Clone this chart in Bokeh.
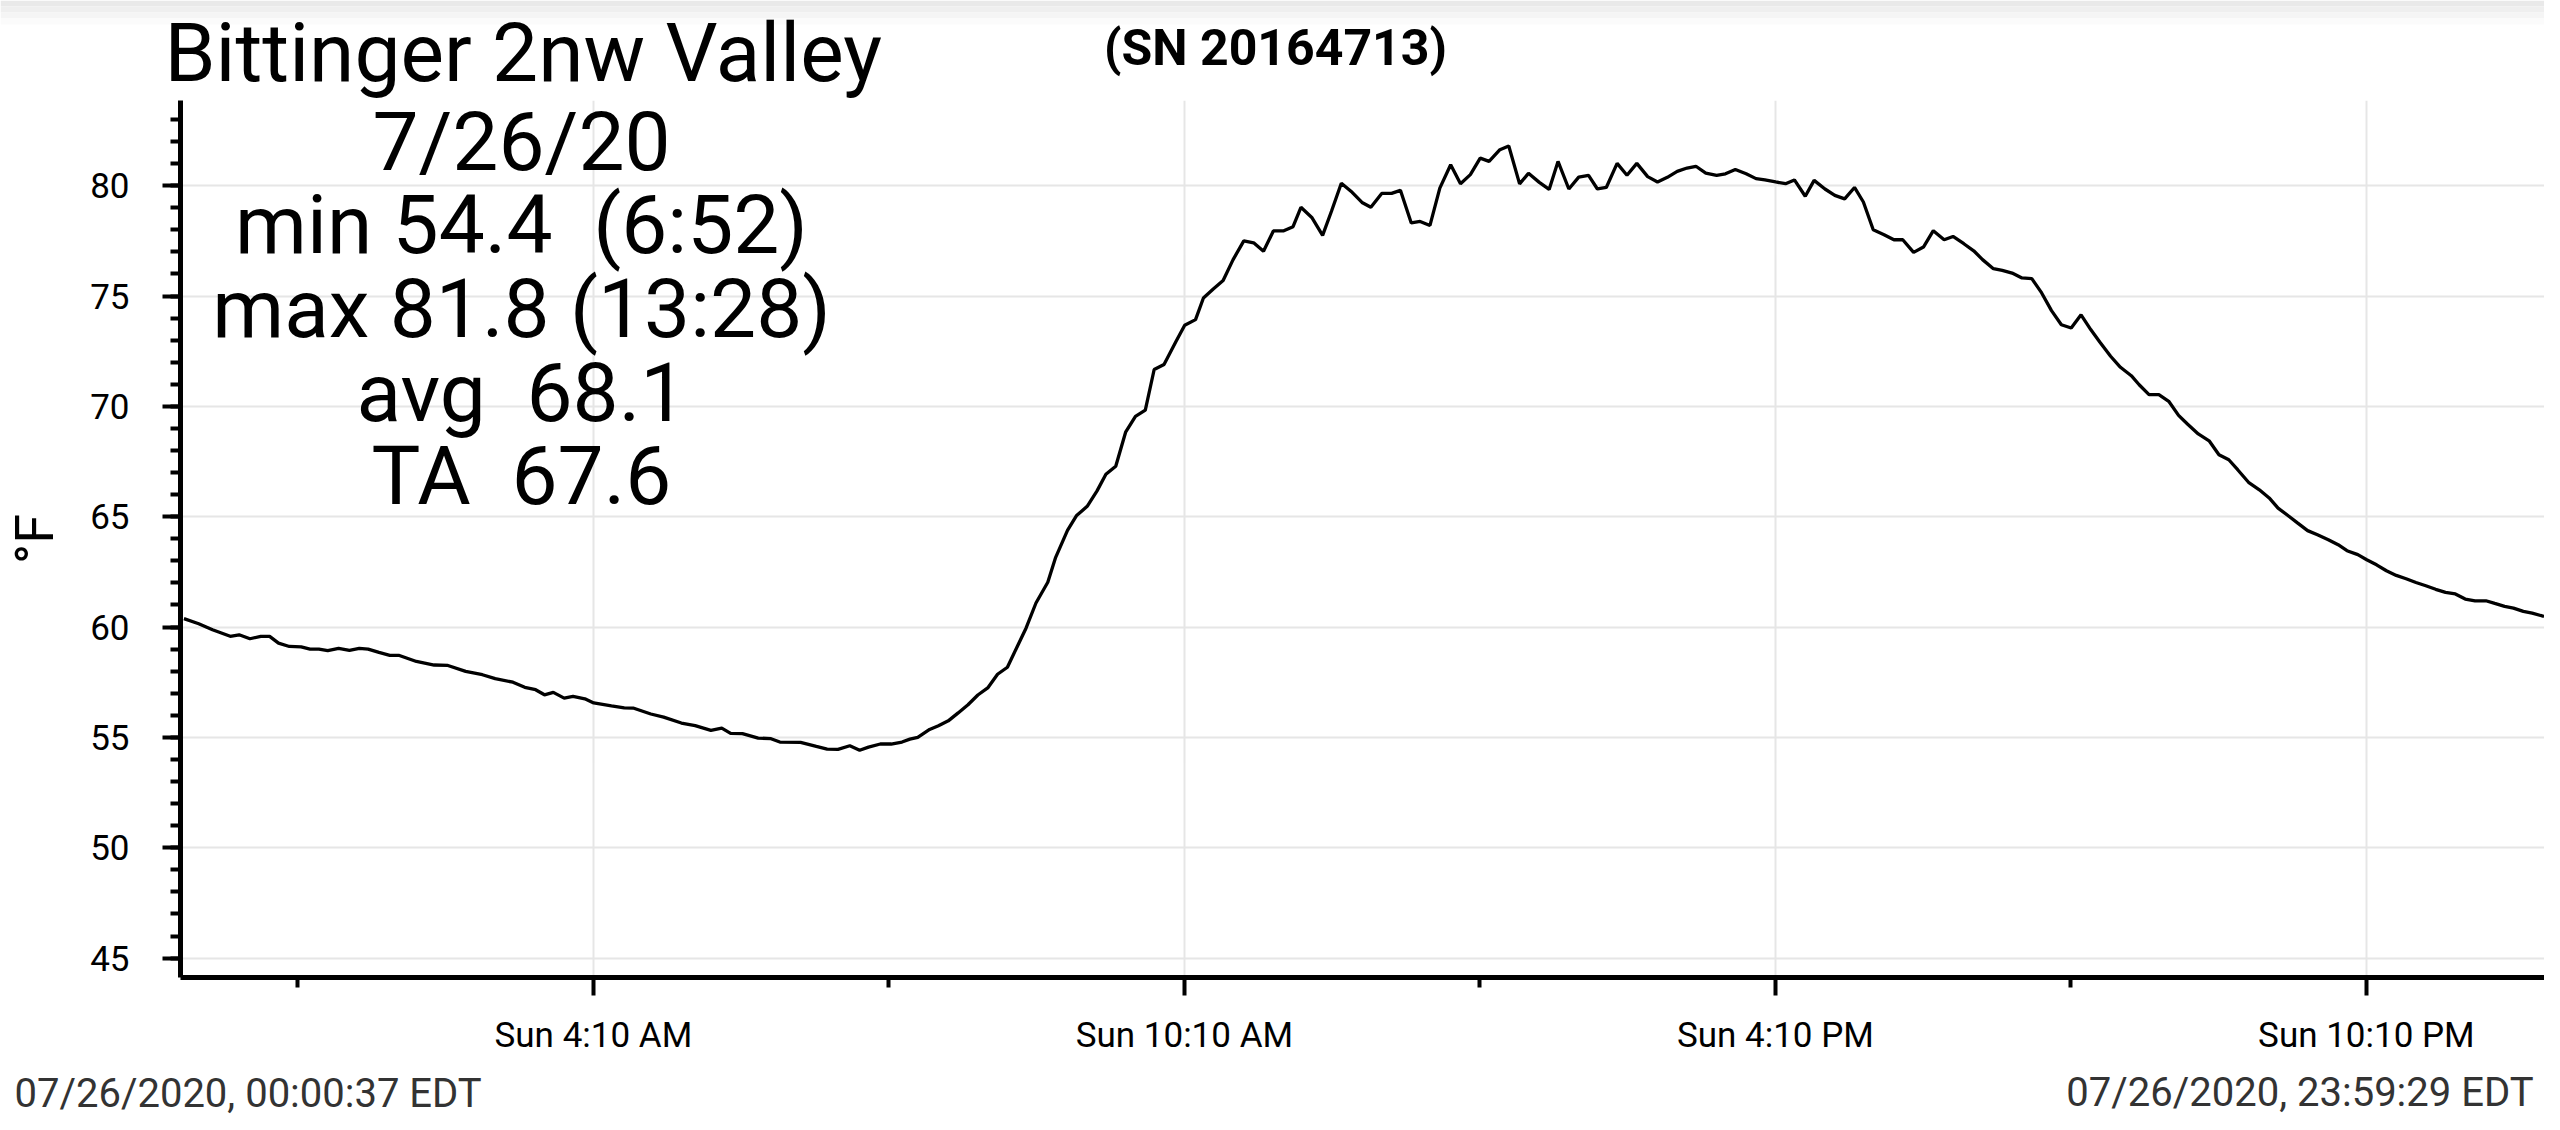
from bokeh.plotting import figure
from bokeh.models import Range1d, FixedTicker, Label, BoxAnnotation
from bokeh.layouts import column
from bokeh.embed import file_html
from bokeh.resources import INLINE

# ---- data (hours since midnight, °F) ----
hours = [
    0.01, 0.16, 0.30, 0.48, 0.57, 0.68, 0.79, 0.88, 0.97, 1.08,
    1.20, 1.29, 1.38, 1.47, 1.58, 1.69, 1.79, 1.88, 1.99, 2.10,
    2.19, 2.37, 2.55, 2.69, 2.87, 3.04, 3.17, 3.35, 3.47, 3.58,
    3.67, 3.76, 3.87, 3.96, 4.08, 4.17, 4.35, 4.48, 4.57, 4.75,
    4.88, 5.06, 5.20, 5.36, 5.47, 5.56, 5.68, 5.84, 5.97, 6.06,
    6.27, 6.43, 6.54, 6.65, 6.77, 6.87, 6.96,
    7.08, 7.19, 7.30, 7.38, 7.46, 7.58, 7.67, 7.77, 7.87, 7.97,
    8.07, 8.17, 8.27, 8.37, 8.48, 8.56, 8.66, 8.78, 8.86, 8.98,
    9.07, 9.18, 9.28, 9.37, 9.47, 9.57, 9.67, 9.77, 9.86, 9.96,
    10.08, 10.17, 10.28, 10.36, 10.46, 10.56, 10.66, 10.77, 10.87, 10.97,
    11.07, 11.17, 11.27,
    11.35, 11.46, 11.57, 11.66, 11.76, 11.87, 11.97, 12.06, 12.17, 12.27,
    12.36, 12.47, 12.56, 12.66, 12.76, 12.87, 12.97, 13.07, 13.17, 13.26,
    13.37, 13.46, 13.57, 13.66, 13.77, 13.87, 13.96, 14.07, 14.17, 14.27,
    14.36, 14.45, 14.56, 14.66, 14.76, 14.87, 14.97, 15.07, 15.17, 15.27,
    15.36, 15.46, 15.57, 15.66, 15.76, 15.87, 15.97, 16.06, 16.17, 16.27,
    16.36, 16.47, 16.56, 16.67, 16.77, 16.87, 16.97, 17.06, 17.16, 17.27,
    17.37, 17.46, 17.57, 17.67, 17.77, 17.88,
    17.97, 18.08, 18.18, 18.27, 18.38, 18.47, 18.57, 18.67, 18.77, 18.87,
    18.97, 19.07, 19.17, 19.27, 19.37, 19.46, 19.57, 19.67, 19.78, 19.86,
    19.96, 20.06, 20.16, 20.26, 20.35, 20.46, 20.57, 20.67, 20.77, 20.86,
    20.97, 21.08, 21.18, 21.27, 21.38, 21.47, 21.57, 21.67, 21.78, 21.88,
    21.97, 22.08, 22.17, 22.27, 22.37, 22.47, 22.57, 22.67, 22.77, 22.87,
    22.97, 23.07, 23.17, 23.27, 23.38, 23.47, 23.57, 23.66, 23.76, 23.85,
    23.97,
]
temp_f = [
    60.38, 60.15, 59.88, 59.58, 59.65, 59.47, 59.58, 59.58, 59.27, 59.12,
    59.10, 59.00, 59.00, 58.93, 59.03, 58.94, 59.03, 59.00, 58.85, 58.72,
    58.72, 58.44, 58.28, 58.26, 57.99, 57.84, 57.66, 57.50, 57.27, 57.16,
    56.93, 57.04, 56.78, 56.86, 56.75, 56.56, 56.43, 56.34, 56.33, 56.06,
    55.92, 55.65, 55.53, 55.32, 55.42, 55.18, 55.17, 54.97, 54.94, 54.79,
    54.77, 54.59, 54.47, 54.46, 54.62, 54.42, 54.56,
    54.70, 54.70, 54.79, 54.92, 55.00, 55.36, 55.53, 55.75, 56.11, 56.48,
    56.92, 57.24, 57.86, 58.18, 59.21, 59.96, 61.09, 62.03, 63.16, 64.38,
    65.04, 65.47, 66.17, 66.92, 67.29, 68.83, 69.55, 69.83, 71.67, 71.90,
    72.93, 73.68, 73.93, 74.91, 75.32, 75.70, 76.64, 77.50, 77.41, 77.03,
    77.95, 77.95, 78.14,
    79.02, 78.56, 77.75, 78.84, 80.11, 79.70, 79.24, 79.02, 79.65, 79.65,
    79.79, 78.31, 78.38, 78.20, 79.89, 80.95, 80.09, 80.50, 81.25, 81.10,
    81.63, 81.80, 80.08, 80.56, 80.15, 79.83, 81.10, 79.85, 80.39, 80.47,
    79.85, 79.92, 81.01, 80.47, 81.01, 80.41, 80.17, 80.38, 80.65, 80.80,
    80.88, 80.57, 80.47, 80.54, 80.73, 80.54, 80.32, 80.26, 80.17, 80.09,
    80.26, 79.52, 80.24, 79.85, 79.56, 79.40, 79.92, 79.26, 78.00, 77.78,
    77.55, 77.55, 76.98, 77.22, 77.96, 77.55,
    77.70, 77.37, 77.05, 76.65, 76.24, 76.16, 76.04, 75.82, 75.79, 75.14,
    74.34, 73.70, 73.55, 74.15, 73.47, 72.92, 72.27, 71.77, 71.39, 70.98,
    70.53, 70.53, 70.23, 69.59, 69.20, 68.75, 68.44, 67.81, 67.58, 67.13,
    66.56, 66.22, 65.85, 65.39, 65.02, 64.71, 64.37, 64.18, 63.96, 63.73,
    63.46, 63.28, 63.05, 62.82, 62.55, 62.34, 62.19, 62.02, 61.87, 61.71,
    61.57, 61.50, 61.27, 61.19, 61.19, 61.07, 60.94, 60.86, 60.71, 60.63,
    60.48,
]

x_tick_hours = [4 + 10 / 60, 10 + 10 / 60, 16 + 10 / 60, 22 + 10 / 60]
x_tick_labels = ["Sun 4:10 AM", "Sun 10:10 AM", "Sun 4:10 PM", "Sun 10:10 PM"]
x_minor_hours = [1 + 10 / 60, 7 + 10 / 60, 13 + 10 / 60, 19 + 10 / 60]
y_ticks = [45, 50, 55, 60, 65, 70, 75, 80]
y_minor_ticks = list(range(45, 84))

station = "Bittinger 2nw Valley"
serial = "(SN 20164713)"
stat_lines = ["7/26/20", "min 54.4\u00a0 (6:52)", "max 81.8 (13:28)", "avg\u00a0 68.1", "TA\u00a0 67.6"]
start_stamp = "07/26/2020, 00:00:37 EDT"
end_stamp = "07/26/2020, 23:59:29 EDT"

FONT = "Roboto"
W = 2544
HEAD_H, MAIN_H, FOOT_H = 100, 965, 57


def blank(h):
    f = figure(width=W, height=h, x_range=Range1d(0, W), y_range=Range1d(0, h),
               output_backend="svg", toolbar_location=None,
               x_axis_location=None, y_axis_location=None,
               min_border=0, min_border_left=0, min_border_right=0,
               min_border_top=0, min_border_bottom=0, frame_align=False)
    f.grid.visible = False
    f.outline_line_color = None
    f.background_fill_color = "white"
    f.border_fill_color = "white"
    return f


# ---- header ----
head = blank(HEAD_H)
# faint status-bar shading at the very top of the screenshot
for b, t, c in [(94, 100, "#e9e9e9"), (88, 94, "#efefef"), (82, 88, "#f5f5f5"), (76, 82, "#fbfbfb")]:
    head.add_layout(BoxAnnotation(bottom=b, top=t, fill_color=c, fill_alpha=1.0, line_color=None))
head.add_layout(Label(x=164, y=48, x_units="screen", y_units="screen", text=station,
                      text_font=FONT, text_font_size="82px", text_color="black",
                      text_align="left", text_baseline="alphabetic"))
head.add_layout(Label(x=1275, y=53, x_units="screen", y_units="screen", text=serial,
                      text_font=FONT, text_font_size="50px", text_font_style="bold",
                      text_color="black", text_align="center", text_baseline="alphabetic"))

# ---- main chart ----
p = figure(
    width=W, height=MAIN_H,
    x_range=Range1d(-0.025, 23.975), y_range=Range1d(44.12, 83.86),
    output_backend="svg", toolbar_location=None,
    min_border_left=172, min_border_right=0, min_border_top=0, min_border_bottom=88,
    frame_align=False,
)
p.outline_line_color = None
p.background_fill_color = "white"
p.border_fill_color = "white"

p.line(hours, temp_f, line_color="black", line_width=3.3)

xa = p.xaxis[0]
xa.ticker = FixedTicker(ticks=x_tick_hours, minor_ticks=x_minor_hours)
xa.major_label_overrides = {t: lab for t, lab in zip(x_tick_hours, x_tick_labels)}
ya = p.yaxis[0]
ya.ticker = FixedTicker(ticks=y_ticks, minor_ticks=y_minor_ticks)
ya.axis_label = "°F"
ya.axis_label_text_font = FONT
ya.axis_label_text_font_size = "54px"
ya.axis_label_text_font_style = "normal"
ya.axis_label_text_color = "black"
ya.axis_label_standoff = 21
ya.major_label_standoff = 33
xa.major_label_standoff = 19

for ax in (xa, ya):
    ax.axis_line_color = "black"
    ax.axis_line_width = 5
    ax.major_tick_line_color = "black"
    ax.major_tick_line_width = 4
    ax.major_tick_out = 18
    ax.major_tick_in = 0
    ax.minor_tick_line_color = "black"
    ax.minor_tick_line_width = 4
    ax.minor_tick_out = 10
    ax.minor_tick_in = 0
    ax.major_label_text_font = FONT
    ax.major_label_text_color = "black"
xa.major_label_text_font_size = "35px"
ya.major_label_text_font_size = "35px"

p.xgrid.grid_line_color = "#e6e6e6"
p.ygrid.grid_line_color = "#e6e6e6"
p.xgrid.grid_line_width = 2
p.ygrid.grid_line_width = 2

for i, line in enumerate(stat_lines):
    p.add_layout(Label(x=341, y=836 - i * 83.7, x_units="screen", y_units="screen", text=line,
                       text_font=FONT, text_font_size="82px", text_color="black",
                       text_align="center", text_baseline="alphabetic"))

# ---- footer ----
foot = blank(FOOT_H)
foot.add_layout(Label(x=14, y=29, x_units="screen", y_units="screen", text=start_stamp,
                      text_font=FONT, text_font_size="40px", text_color="#333333",
                      text_align="left", text_baseline="alphabetic"))
foot.add_layout(Label(x=2533, y=30, x_units="screen", y_units="screen", text=end_stamp,
                      text_font=FONT, text_font_size="40px", text_color="#333333",
                      text_align="right", text_baseline="alphabetic"))

layout = column(head, p, foot, spacing=0)
open("out.html", "w").write(file_html(layout, INLINE))
